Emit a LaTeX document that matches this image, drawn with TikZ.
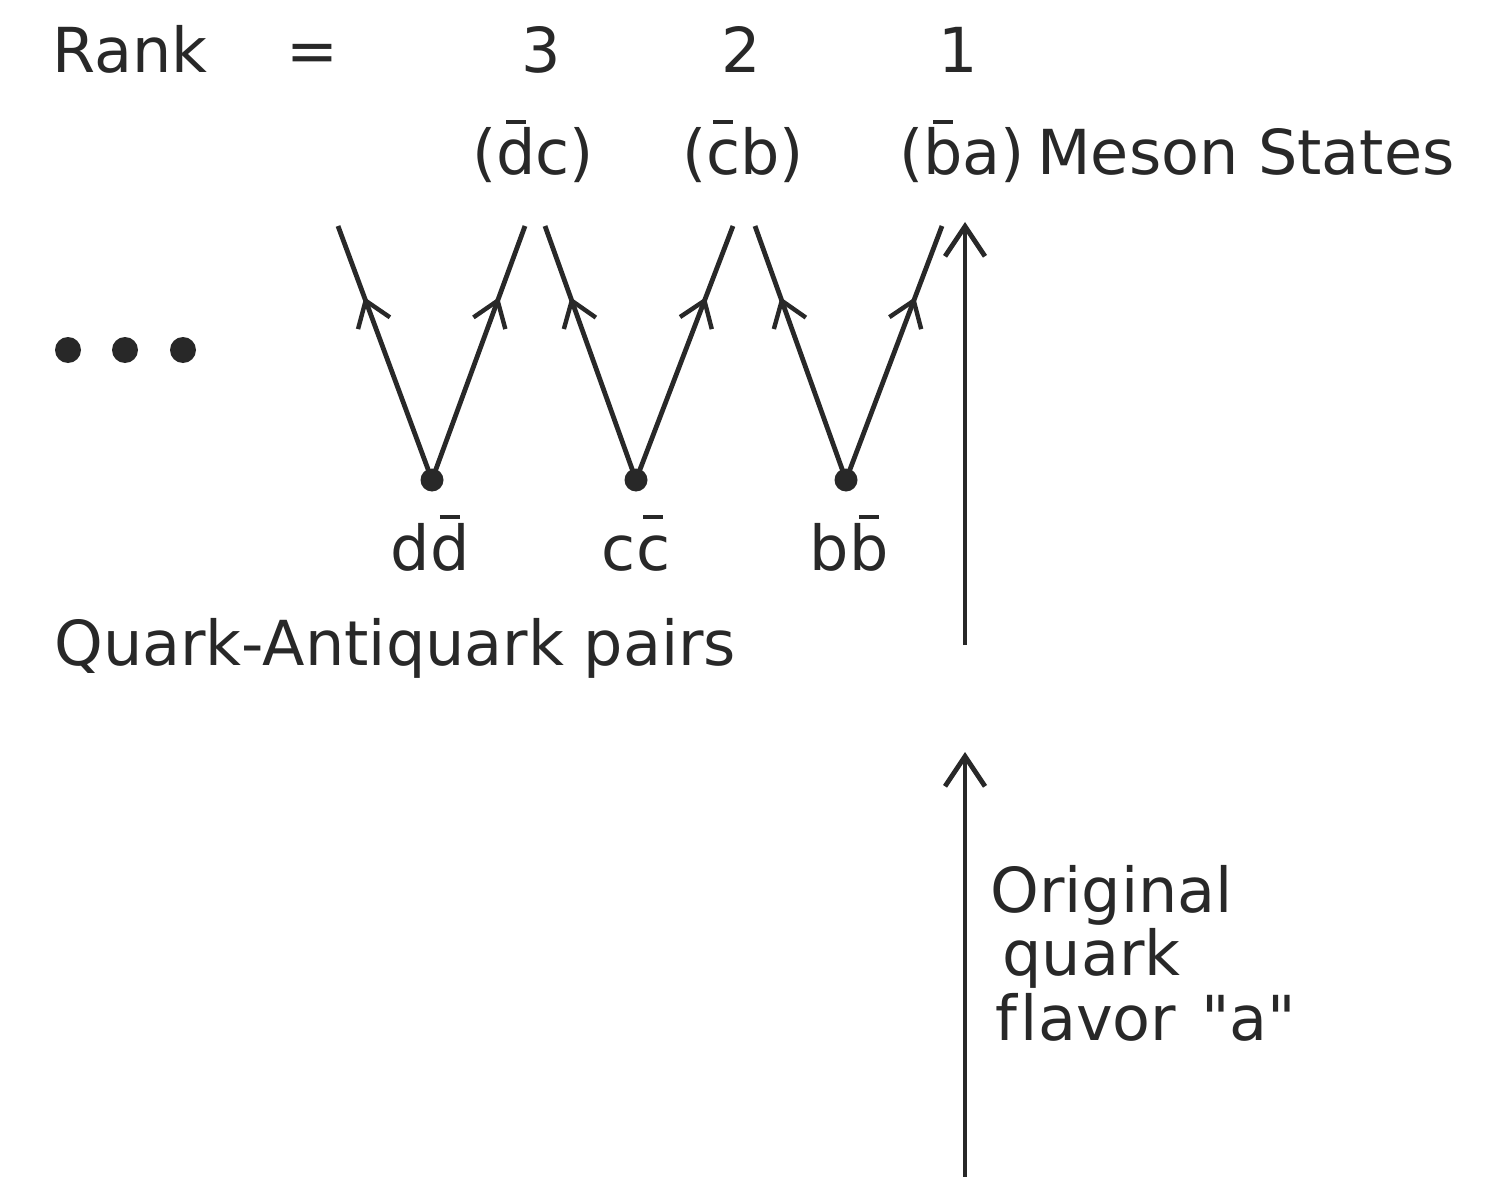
\documentclass[tikz,border=0pt]{standalone}
\usepackage{fontspec}
\setmainfont{DejaVu Sans}[Ligatures={NoCommon}]
\newfontfamily\rawfont{DejaVu Sans}[Ligatures={NoCommon}]
\usetikzlibrary{arrows.meta,decorations.markings}
\definecolor{ink}{RGB}{40,40,40}
\newcommand{\qb}[1]{\setbox0=\hbox{#1}\rlap{\hbox to \wd0{\hss\raisebox{0.82em}{\rule{0.32em}{0.07em}}\hss}}\box0}
\begin{document}
\begin{tikzpicture}[x=0.5pt,y={(0pt,-0.5pt)}, line width=2.4pt, draw=ink,
  txt/.style={font=\fontsize{31}{39}\selectfont, inner sep=0pt, text=ink},
  vtx/.style={circle, fill=ink, inner sep=0pt, minimum size=11.5pt},
  bigdot/.style={circle, fill=ink, inner sep=0pt, minimum size=13pt},
  quarkline/.style={postaction={decorate}, decoration={markings, mark=at position 0.72 with {\arrow{Straight Barb[length=12pt,width=17pt,line width=2.2pt]}}}},
  uparrow/.style={-{Straight Barb[length=15pt,width=20pt,line width=2.4pt]}}]
\fill[white] (0,0) rectangle (1496,1177);
\useasboundingbox (0,0) rectangle (1496,1177);

% header row
\node[txt, anchor=base west] (rank) at (50,73) {Rank};
\node[txt, anchor=base] (eq) at (312,73) {=};
\node[txt, anchor=base] (r3) at (541,73) {3};
\node[txt, anchor=base] (r2) at (741,73) {2};
\node[txt, anchor=base] (r1) at (958,73) {1};

% meson states
\node[txt, anchor=base] (m3) at (533,175) {(\qb{d}c)};
\node[txt, anchor=base] (m2) at (743,175) {(\qb{c}b)};
\node[txt, anchor=base] (m1) at (962,175) {(\qb{b}a)};
\node[txt, anchor=base west] (ms) at (1035,175) {Meson States};

% dots
\node[bigdot] (e1) at (68,350) {};
\node[bigdot] (e2) at (125,350) {};
\node[bigdot] (e3) at (183,350) {};

% vertices
\node[vtx] (v1) at (432,480) {};
\node[vtx] (v2) at (636,480) {};
\node[vtx] (v3) at (846,480) {};

\coordinate (t1l) at (338,226);
\coordinate (t1r) at (525,226);
\coordinate (t2l) at (545,226);
\coordinate (t2r) at (733,226);
\coordinate (t3l) at (755,226);
\coordinate (t3r) at (942,226);

\draw[quarkline] (v1.center) -- (t1l);
\draw[quarkline] (v1.center) -- (t1r);
\draw[quarkline] (v2.center) -- (t2l);
\draw[quarkline] (v2.center) -- (t2r);
\draw[quarkline] (v3.center) -- (t3l);
\draw[quarkline] (v3.center) -- (t3r);

% pair labels
\node[txt, anchor=base] (p1) at (430,570) {d\qb{d}};
\node[txt, anchor=base] (p2) at (636,570) {c\qb{c}};
\node[txt, anchor=base] (p3) at (849,570) {b\qb{b}};

\node[txt, anchor=base west] (qap) at (52,665) {Quark-Antiquark pairs};

% vertical arrows
\coordinate (a1s) at (965,645);
\coordinate (a1e) at (965,222);
\coordinate (a2s) at (965,1177);
\coordinate (a2e) at (965,752);
\draw[uparrow] (a1s) -- (a1e);
\draw[uparrow] (a2s) -- (a2e);

\node[txt, anchor=base west] (o1) at (988,912) {Original};
\node[txt, anchor=base west] (o2) at (1000,975) {quark};
\node[txt, anchor=base west] (o3) at (993,1040) {f\kern0.06em lavor\hspace{0.4em}{\rawfont"a"}};
\end{tikzpicture}
\end{document}
